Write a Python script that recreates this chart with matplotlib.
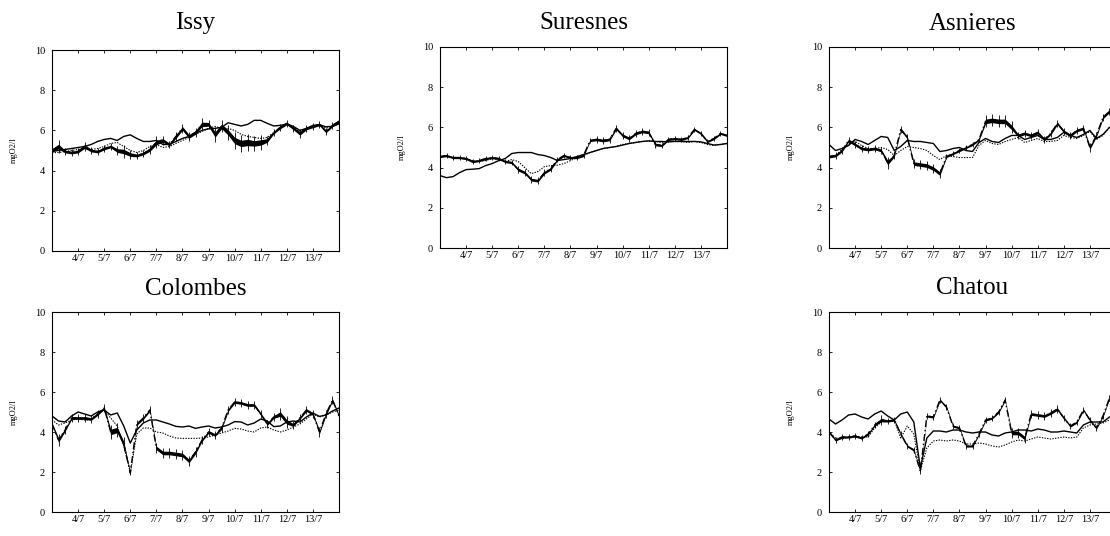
import numpy as np
import matplotlib
matplotlib.use("Agg")
import matplotlib.pyplot as plt

plt.rcParams['font.family'] = ['Liberation Serif', 'DejaVu Serif']

# sampling times: day of July, every 6 hours from 3/7 to 14/7
days = np.linspace(3, 14, 45)
tick_days = list(range(4, 14))
tick_labels = [f"{d}/7" for d in tick_days]

stations = ["Issy", "Suresnes", "Asnieres", "Colombes", "Chatou"]

# model 1 (solid), model 2 (dotted), measurements (dash-dot + noise)
issy_m1 = [4.95, 5.0, 5.05, 5.1, 5.15, 5.2, 5.3, 5.45, 5.55, 5.6, 5.5, 5.7, 5.78, 5.6, 5.45,
           5.45, 5.5, 5.3, 5.3, 5.45, 5.6, 5.7, 5.85, 6.0, 6.08, 6.1, 6.15, 6.38, 6.3, 6.22,
           6.3, 6.5, 6.5, 6.35, 6.22, 6.25, 6.32, 6.2, 6.0, 6.1, 6.25, 6.28, 6.18, 6.2, 6.32]
issy_m2 = [4.9, 4.9, 4.95, 5.0, 5.05, 5.1, 5.05, 5.1, 5.2, 5.35, 5.4, 5.2, 5.0, 4.9, 5.0,
           5.2, 5.3, 5.15, 5.2, 5.35, 5.5, 5.65, 5.8, 5.95, 6.1, 6.2, 6.1, 6.1, 6.0, 5.8,
           5.7, 5.65, 5.6, 5.65, 5.9, 6.15, 6.3, 6.15, 5.95, 6.1, 6.2, 6.3, 6.1, 6.25, 6.4]
issy_obs = [5.0, 5.2, 4.95, 4.9, 4.95, 5.2, 5.0, 4.95, 5.1, 5.2, 5.0, 4.95, 4.8, 4.75, 4.85,
            5.05, 5.4, 5.5, 5.3, 5.7, 6.1, 5.7, 5.9, 6.3, 6.3, 5.8, 6.2, 5.9, 5.5, 5.35,
            5.4, 5.35, 5.4, 5.5, 5.9, 6.15, 6.35, 6.1, 5.85, 6.1, 6.2, 6.3, 5.95, 6.25, 6.45]
issy_noise = [0.2, 0.25, 0.15, 0.15, 0.15, 0.2, 0.15, 0.15, 0.15, 0.15, 0.2, 0.25, 0.2, 0.15, 0.15,
              0.2, 0.25, 0.2, 0.15, 0.2, 0.2, 0.2, 0.2, 0.25, 0.2, 0.3, 0.25, 0.3, 0.35, 0.35,
              0.35, 0.3, 0.3, 0.2, 0.15, 0.15, 0.15, 0.15, 0.2, 0.15, 0.15, 0.15, 0.15, 0.15, 0.2]

suresnes_m1 = [3.6, 3.5, 3.55, 3.75, 3.9, 3.92, 3.95, 4.1, 4.2, 4.35, 4.45, 4.7, 4.75, 4.75, 4.75,
               4.65, 4.6, 4.5, 4.35, 4.4, 4.45, 4.55, 4.65, 4.75, 4.85, 4.95, 5.0, 5.05, 5.12, 5.2,
               5.25, 5.3, 5.33, 5.3, 5.3, 5.28, 5.3, 5.3, 5.3, 5.3, 5.28, 5.2, 5.12, 5.15, 5.2]
suresnes_m2 = [4.55, 4.55, 4.5, 4.5, 4.45, 4.35, 4.3, 4.35, 4.45, 4.4, 4.3, 4.4, 4.3, 4.0, 3.7,
               3.8, 4.05, 4.1, 4.12, 4.2, 4.35, 4.5, 4.6, 4.75, 4.85, 4.95, 5.0, 5.05, 5.15, 5.2,
               5.25, 5.3, 5.32, 5.3, 5.25, 5.3, 5.32, 5.3, 5.25, 5.3, 5.25, 5.15, 5.1, 5.15, 5.2]
suresnes_obs = [4.55, 4.6, 4.5, 4.5, 4.45, 4.3, 4.35, 4.45, 4.5, 4.45, 4.3, 4.25, 3.9, 3.75, 3.4,
                3.35, 3.75, 3.95, 4.4, 4.6, 4.5, 4.5, 4.6, 5.35, 5.4, 5.35, 5.4, 5.95, 5.6, 5.45,
                5.7, 5.8, 5.75, 5.15, 5.1, 5.4, 5.45, 5.4, 5.5, 5.9, 5.7, 5.3, 5.45, 5.7, 5.6]
suresnes_noise = [0.12] * 12 + [0.15] * 6 + [0.12] * 6 + [0.15] * 10 + [0.12] * 11

asnieres_m1 = [5.15, 4.85, 4.95, 5.1, 5.4, 5.3, 5.15, 5.35, 5.55, 5.5, 4.85, 5.05, 5.35, 5.3, 5.3,
               5.25, 5.2, 4.8, 4.85, 4.95, 5.0, 4.85, 4.8, 5.25, 5.45, 5.3, 5.25, 5.45, 5.6, 5.6,
               5.4, 5.5, 5.6, 5.4, 5.4, 5.5, 5.75, 5.6, 5.5, 5.65, 5.85, 5.45, 5.65, 6.0, 6.1]
asnieres_m2 = [4.5, 4.6, 4.9, 5.15, 5.3, 5.1, 4.95, 4.95, 5.0, 4.9, 4.6, 4.85, 5.05, 5.0, 4.95,
               4.85, 4.6, 4.4, 4.6, 4.55, 4.5, 4.5, 4.5, 5.1, 5.35, 5.2, 5.15, 5.3, 5.4, 5.5,
               5.25, 5.35, 5.45, 5.3, 5.3, 5.35, 5.6, 5.5, 5.45, 5.6, 5.8, 5.4, 5.6, 6.0, 6.05]
asnieres_obs = [4.55, 4.6, 4.85, 5.35, 5.15, 4.95, 4.9, 4.95, 4.85, 4.25, 4.6, 5.9, 5.5, 4.2, 4.15,
                4.1, 3.95, 3.7, 4.55, 4.7, 4.85, 5.0, 5.15, 5.4, 6.3, 6.35, 6.3, 6.3, 6.0, 5.6,
                5.7, 5.6, 5.75, 5.4, 5.7, 6.2, 5.8, 5.6, 5.85, 5.95, 5.0, 5.6, 6.5, 6.8, 6.9]
asnieres_noise = ([0.15] * 9 + [0.25] + [0.15] * 3 + [0.2] * 5 + [0.12] * 6 + [0.25] * 5
                  + [0.15] * 11 + [0.2] + [0.15] * 4)

colombes_m1 = [4.8, 4.55, 4.5, 4.8, 5.0, 4.9, 4.8, 5.0, 5.1, 4.85, 4.95, 4.3, 3.45, 4.1, 4.45,
               4.6, 4.6, 4.5, 4.4, 4.28, 4.25, 4.3, 4.18, 4.25, 4.3, 4.2, 4.25, 4.35, 4.52, 4.5,
               4.35, 4.45, 4.65, 4.55, 4.27, 4.3, 4.5, 4.55, 4.5, 4.75, 4.95, 4.78, 4.85, 5.05, 5.2]
colombes_m2 = [4.6, 4.35, 4.45, 4.6, 4.65, 4.6, 4.6, 4.9, 5.1, 4.7, 4.3, 3.3, 2.0, 3.9, 4.2,
               4.2, 4.0, 3.95, 3.8, 3.7, 3.68, 3.68, 3.68, 3.7, 3.75, 3.85, 3.95, 4.05, 4.18, 4.15,
               4.05, 4.0, 4.2, 4.25, 4.1, 4.0, 4.1, 4.25, 4.4, 4.65, 4.9, 4.75, 4.85, 5.0, 5.1]
colombes_obs = [4.4, 3.6, 4.1, 4.7, 4.7, 4.7, 4.65, 4.9, 5.2, 4.0, 4.1, 3.4, 1.95, 4.4, 4.7,
                5.1, 3.2, 2.95, 2.95, 2.9, 2.85, 2.55, 3.0, 3.6, 4.0, 3.85, 4.2, 5.1, 5.5, 5.45,
                5.35, 5.35, 4.9, 4.4, 4.75, 4.9, 4.5, 4.35, 4.7, 5.1, 4.9, 4.0, 4.9, 5.6, 4.8]
colombes_noise = ([0.15] + [0.25] + [0.15] * 7 + [0.3] * 3 + [0.1] + [0.15] * 3
                  + [0.2] * 7 + [0.15] * 12 + [0.25] * 2 + [0.15] * 4 + [0.2] + [0.15] * 3)

chatou_m1 = [4.65, 4.4, 4.6, 4.85, 4.9, 4.75, 4.65, 4.9, 5.05, 4.8, 4.6, 4.9, 5.0, 4.5, 2.2,
             3.7, 4.05, 4.05, 4.0, 4.1, 4.1, 4.0, 3.95, 4.0, 4.0, 3.85, 3.8, 3.95, 4.0, 4.1,
             4.1, 4.05, 4.15, 4.1, 4.0, 4.0, 4.05, 4.0, 3.95, 4.35, 4.5, 4.5, 4.5, 4.75, 4.85]
chatou_m2 = [4.0, 3.7, 3.65, 3.75, 3.8, 3.75, 3.75, 4.2, 4.5, 4.55, 4.6, 3.7, 4.3, 3.9, 2.05,
             3.2, 3.55, 3.6, 3.55, 3.6, 3.55, 3.4, 3.4, 3.45, 3.4, 3.3, 3.25, 3.35, 3.5, 3.6,
             3.55, 3.65, 3.75, 3.7, 3.65, 3.7, 3.75, 3.7, 3.75, 4.2, 4.35, 4.4, 4.45, 4.6, 4.7]
chatou_obs = [4.0, 3.6, 3.75, 3.75, 3.8, 3.7, 3.9, 4.35, 4.6, 4.55, 4.6, 3.9, 3.3, 3.1, 2.05,
              4.8, 4.75, 5.6, 5.25, 4.3, 4.2, 3.3, 3.3, 3.9, 4.6, 4.7, 5.0, 5.6, 3.95, 3.95,
              3.7, 4.9, 4.85, 4.8, 4.95, 5.15, 4.7, 4.3, 4.5, 5.1, 4.6, 4.2, 4.8, 5.7, 5.8]
chatou_noise = ([0.12] * 8 + [0.2] + [0.12] * 19 + [0.2] * 3 + [0.15] * 5 + [0.12] * 9)

model1 = [issy_m1, suresnes_m1, asnieres_m1, colombes_m1, chatou_m1]
model2 = [issy_m2, suresnes_m2, asnieres_m2, colombes_m2, chatou_m2]
observed = [issy_obs, suresnes_obs, asnieres_obs, colombes_obs, chatou_obs]
noise = [issy_noise, suresnes_noise, asnieres_noise, colombes_noise, chatou_noise]

W, H = 1110, 536
fig = plt.figure(figsize=(W / 100, H / 100), dpi=100)

# panel boxes in pixels: left, top, width, height (right column runs off the page)
boxes = [(52, 50, 287, 201), (440, 47, 287, 201), (829, 47, 287, 201),
         (52, 312, 287, 200), (829, 312, 287, 200)]
title_pads = [15, 13, 12, 12, 13]

for i, name in enumerate(stations):
    l, t, w, h = boxes[i]
    ax = fig.add_axes([l / W, (H - t - h) / H, w / W, h / H])
    obs = np.array(observed[i])
    nz = np.array(noise[i])
    # measurement scatter: thin band plus spikes
    ax.fill_between(days, obs - 0.45 * nz, obs + 0.45 * nz, color='black', lw=0)
    ax.vlines(days, obs - 1.2 * nz, obs + 1.2 * nz, color='black', lw=0.6)
    ax.plot(days, obs, color='black', lw=1.0, ls=(0, (5, 2, 1, 2)))
    ax.plot(days, model2[i], color='black', lw=0.8, ls=(0, (1.2, 1.2)))
    ax.plot(days, model1[i], color='black', lw=1.0)

    ax.set_xlim(3, 14)
    ax.set_ylim(0, 10)
    ax.set_xticks(tick_days)
    ax.set_xticklabels(tick_labels)
    ax.set_yticks([0, 2, 4, 6, 8, 10])
    ax.tick_params(direction='in', top=True, right=True, length=2.5, width=0.6,
                   labelsize=7.5)
    ax.tick_params(axis='x', pad=2.5)
    ax.tick_params(axis='y', pad=5)
    for s in ax.spines.values():
        s.set_linewidth(0.8)
    ax.set_title(name, fontsize=18, pad=title_pads[i])
    ax.set_ylabel("mgO2/l", fontsize=6)
    ax.yaxis.set_label_coords(-0.118, 0.5)

fig.savefig("out.png", dpi=100)
